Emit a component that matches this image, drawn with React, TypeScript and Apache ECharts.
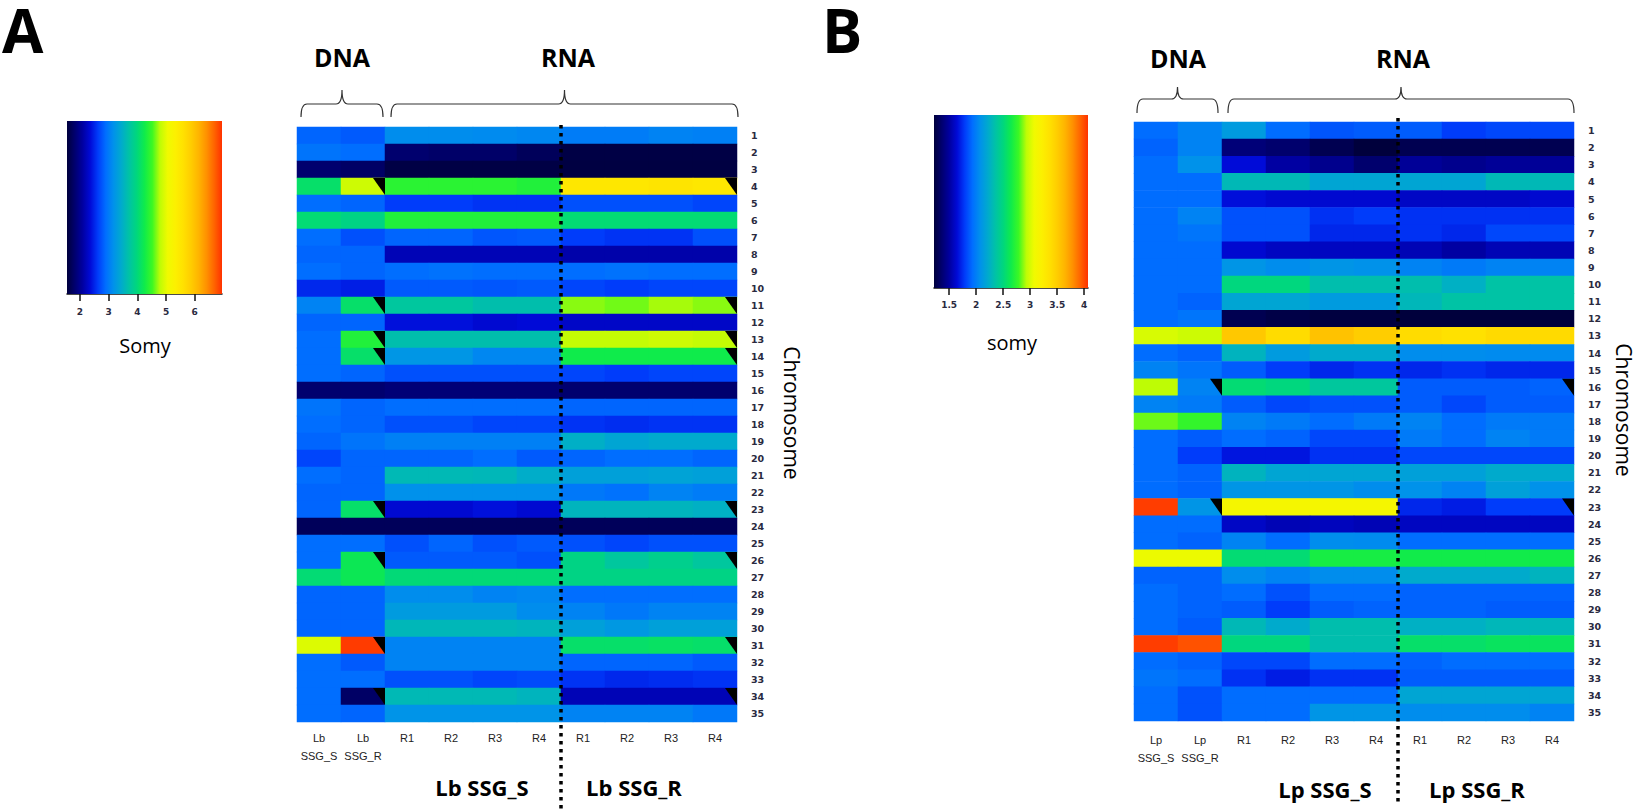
import React, { useEffect, useRef } from "react";
import * as echarts from "echarts";

// ---------------- data ----------------
const chromosomes = ["1","2","3","4","5","6","7","8","9","10","11","12","13","14","15","16","17","18","19","20","21","22","23","24","25","26","27","28","29","30","31","32","33","34","35"];

const columnsA = ["DNA Lb SSG_S", "DNA Lb SSG_R", "S R1", "S R2", "S R3", "S R4", "R R1", "R R2", "R R3", "R R4"];
const columnLabelsA = ["Lb\nSSG_S", "Lb\nSSG_R", "R1", "R2", "R3", "R4", "R1", "R2", "R3", "R4"];
const columnsB = ["DNA Lp SSG_S", "DNA Lp SSG_R", "S R1", "S R2", "S R3", "S R4", "R R1", "R R2", "R R3", "R R4"];
const columnLabelsB = ["Lp\nSSG_S", "Lp\nSSG_R", "R1", "R2", "R3", "R4", "R1", "R2", "R3", "R4"];

// somy per chromosome (rows) x sample (columns)
const somyA: number[][] = [
  [2.85, 2.79, 3.14, 3.14, 3.12, 3.09, 3.01, 3.01, 3.06, 3.04],
  [2.95, 2.90, 1.82, 1.79, 1.79, 1.71, 1.60, 1.60, 1.60, 1.60],
  [1.82, 1.77, 1.60, 1.60, 1.60, 1.60, 1.58, 1.58, 1.58, 1.58],
  [4.09, 4.87, 4.41, 4.41, 4.41, 4.36, 5.49, 5.49, 5.55, 5.49],
  [2.90, 2.85, 2.63, 2.63, 2.58, 2.58, 2.74, 2.74, 2.74, 2.68],
  [4.03, 3.93, 4.36, 4.36, 4.36, 4.36, 4.03, 4.03, 4.03, 4.03],
  [2.90, 2.74, 2.85, 2.85, 2.77, 2.79, 2.63, 2.58, 2.58, 2.74],
  [2.85, 2.85, 2.20, 2.20, 2.20, 2.20, 2.14, 2.14, 2.14, 2.14],
  [2.90, 2.85, 2.90, 2.93, 2.90, 2.90, 2.90, 2.93, 2.90, 2.90],
  [2.52, 2.47, 2.79, 2.79, 2.77, 2.79, 2.68, 2.63, 2.68, 2.68],
  [3.06, 4.09, 3.76, 3.76, 3.66, 3.66, 4.68, 4.63, 4.74, 4.68],
  [2.85, 2.85, 2.39, 2.39, 2.33, 2.36, 2.28, 2.28, 2.28, 2.28],
  [2.90, 4.36, 3.66, 3.66, 3.66, 3.66, 4.82, 4.82, 4.87, 4.82],
  [2.90, 4.09, 3.22, 3.22, 3.09, 3.09, 4.25, 4.25, 4.25, 4.25],
  [2.90, 2.85, 2.74, 2.74, 2.74, 2.74, 2.68, 2.63, 2.68, 2.68],
  [1.82, 1.82, 1.87, 1.87, 1.87, 1.87, 1.82, 1.82, 1.82, 1.82],
  [2.95, 2.85, 2.90, 2.90, 2.90, 2.90, 2.85, 2.85, 2.85, 2.85],
  [2.90, 2.85, 2.74, 2.74, 2.68, 2.68, 2.58, 2.55, 2.58, 2.58],
  [2.85, 2.95, 3.04, 3.04, 3.04, 3.04, 3.49, 3.39, 3.44, 3.44],
  [2.68, 2.85, 2.85, 2.85, 2.90, 2.79, 2.85, 2.90, 2.90, 2.85],
  [2.90, 2.85, 3.60, 3.60, 3.58, 3.47, 3.33, 3.33, 3.36, 3.33],
  [2.85, 2.85, 3.17, 3.17, 3.17, 3.17, 2.98, 2.93, 3.06, 3.01],
  [2.85, 4.09, 2.33, 2.33, 2.39, 2.33, 3.55, 3.55, 3.55, 3.50],
  [1.71, 1.71, 1.71, 1.71, 1.71, 1.71, 1.71, 1.71, 1.71, 1.71],
  [2.90, 2.90, 2.74, 2.85, 2.74, 2.79, 2.74, 2.68, 2.74, 2.74],
  [2.90, 4.20, 2.79, 2.79, 2.79, 2.74, 3.93, 3.76, 3.87, 3.76],
  [4.03, 4.20, 4.01, 4.01, 4.01, 4.01, 3.93, 3.93, 3.93, 3.93],
  [2.85, 2.85, 3.14, 3.14, 3.06, 3.09, 2.90, 2.90, 2.90, 2.90],
  [2.85, 2.85, 3.28, 3.28, 3.28, 3.14, 3.06, 2.98, 3.06, 3.06],
  [2.85, 2.85, 3.58, 3.58, 3.58, 3.55, 3.33, 3.25, 3.33, 3.33],
  [4.95, 6.90, 3.06, 3.06, 3.06, 3.06, 4.09, 4.09, 4.12, 4.09],
  [2.90, 2.79, 3.06, 3.06, 3.06, 3.06, 2.85, 2.85, 2.85, 2.79],
  [2.90, 2.90, 2.74, 2.74, 2.68, 2.71, 2.58, 2.52, 2.55, 2.58],
  [2.90, 1.77, 3.60, 3.60, 3.60, 3.55, 2.20, 2.20, 2.20, 2.20],
  [2.90, 2.85, 3.20, 3.20, 3.20, 3.20, 3.06, 3.06, 3.06, 2.98],
];

const somyB: number[][] = [
  [1.93, 2.02, 2.13, 1.93, 1.86, 1.88, 1.88, 1.79, 1.82, 1.82],
  [1.90, 2.02, 1.39, 1.36, 1.28, 1.22, 1.28, 1.28, 1.28, 1.28],
  [1.93, 2.08, 1.65, 1.51, 1.45, 1.36, 1.48, 1.45, 1.48, 1.48],
  [1.93, 1.93, 2.30, 2.30, 2.19, 2.19, 2.19, 2.19, 2.30, 2.30],
  [1.93, 1.93, 1.66, 1.63, 1.63, 1.63, 1.60, 1.60, 1.60, 1.63],
  [1.93, 2.02, 1.85, 1.85, 1.76, 1.79, 1.76, 1.76, 1.76, 1.76],
  [1.93, 1.96, 1.85, 1.85, 1.73, 1.73, 1.76, 1.73, 1.82, 1.82],
  [1.93, 1.93, 1.63, 1.59, 1.59, 1.59, 1.56, 1.51, 1.56, 1.56],
  [1.93, 1.93, 2.10, 2.06, 2.10, 2.08, 2.02, 1.98, 2.02, 2.02],
  [1.93, 1.93, 2.50, 2.50, 2.33, 2.33, 2.33, 2.25, 2.36, 2.36],
  [1.93, 1.90, 2.19, 2.19, 2.13, 2.13, 2.29, 2.36, 2.36, 2.36],
  [1.93, 1.96, 1.28, 1.25, 1.23, 1.23, 1.22, 1.22, 1.22, 1.22],
  [3.00, 2.97, 3.53, 3.39, 3.56, 3.50, 3.39, 3.36, 3.41, 3.41],
  [1.93, 1.90, 2.27, 2.13, 2.22, 2.22, 2.06, 2.06, 2.05, 2.05],
  [2.02, 1.96, 1.88, 1.79, 1.73, 1.76, 1.73, 1.76, 1.73, 1.73],
  [2.93, 2.02, 2.53, 2.50, 2.39, 2.39, 1.88, 1.88, 1.88, 1.90],
  [2.02, 1.98, 1.88, 1.82, 1.85, 1.85, 1.88, 1.82, 1.88, 1.88],
  [2.84, 2.76, 2.02, 1.98, 1.93, 1.98, 2.02, 1.93, 1.98, 1.98],
  [1.93, 1.88, 1.93, 1.90, 1.82, 1.82, 1.98, 1.93, 2.02, 1.98],
  [1.93, 1.79, 1.68, 1.68, 1.76, 1.76, 1.82, 1.82, 1.82, 1.82],
  [1.93, 1.90, 2.27, 2.19, 2.19, 2.19, 2.16, 2.16, 2.22, 2.22],
  [1.93, 1.90, 2.10, 2.10, 2.10, 2.06, 2.08, 2.02, 2.16, 2.08],
  [4.04, 2.10, 3.13, 3.13, 3.13, 3.13, 1.73, 1.70, 1.79, 1.79],
  [1.93, 1.93, 1.60, 1.56, 1.58, 1.56, 1.59, 1.59, 1.59, 1.59],
  [1.93, 1.90, 2.02, 1.93, 2.06, 2.05, 1.93, 1.93, 1.93, 1.93],
  [3.06, 3.06, 2.53, 2.53, 2.67, 2.67, 2.65, 2.65, 2.65, 2.65],
  [1.90, 1.90, 2.06, 2.02, 2.06, 2.06, 2.22, 2.22, 2.22, 2.27],
  [1.93, 1.90, 1.93, 1.85, 1.93, 1.93, 1.90, 1.90, 1.90, 1.90],
  [1.93, 1.90, 1.88, 1.79, 1.88, 1.90, 1.90, 1.90, 1.88, 1.88],
  [1.93, 1.88, 2.30, 2.22, 2.33, 2.33, 2.25, 2.25, 2.29, 2.29],
  [4.04, 3.98, 2.50, 2.50, 2.33, 2.33, 2.56, 2.56, 2.59, 2.59],
  [1.93, 1.90, 1.82, 1.82, 1.93, 1.93, 1.90, 1.93, 1.93, 1.93],
  [1.96, 1.93, 1.76, 1.70, 1.76, 1.76, 1.88, 1.88, 1.88, 1.88],
  [1.93, 1.85, 1.93, 1.93, 1.93, 1.93, 2.19, 2.19, 2.19, 2.19],
  [1.93, 1.85, 1.93, 1.93, 2.10, 2.10, 2.06, 2.06, 2.06, 2.02],
];

// chromosomes marked with a black corner (flagged) and the columns carrying the mark
const flaggedChromA = [4, 11, 13, 14, 23, 26, 31, 34];
const flaggedChromB = [16, 23];
const flaggedCols = [1, 9];

// colour scale ranges and ticks
const scaleA = { min: 1.55, max: 6.95 };
const scaleB = { min: 1.22, max: 4.07 };
const ticksA = [2, 3, 4, 5, 6];
const ticksB = [1.5, 2, 2.5, 3, 3.5, 4];

// -------------- styles ---------------
const PALETTE = [
  "#00003c", "#00006e", "#0000a0", "#000ad7", "#003cfa", "#006eff", "#0091eb",
  "#00aacd", "#00c3a5", "#00d77d", "#0feb4b", "#3cf823", "#befc05", "#f0fa00",
  "#fcf000", "#ffe100", "#ffcd00", "#ffb400", "#ff9100", "#ff6400", "#ff3200",
];

const BOLD = "'Open Sans', 'Noto Sans', sans-serif";
const SMALL = "'DejaVu Sans', sans-serif";
const LAB = "'Liberation Sans', Arial, sans-serif";

const Brace = (echarts.graphic as any).extendShape({
  type: "brace",
  shape: { x1: 0, x2: 0, yTip: 0, yMid: 0, yEnd: 0, r: 6 },
  buildPath(ctx: any, s: any) {
    const xm = (s.x1 + s.x2) / 2;
    ctx.moveTo(s.x1, s.yEnd);
    ctx.quadraticCurveTo(s.x1, s.yMid, s.x1 + s.r, s.yMid);
    ctx.lineTo(xm - s.r, s.yMid);
    ctx.quadraticCurveTo(xm, s.yMid, xm, s.yTip);
    ctx.quadraticCurveTo(xm, s.yMid, xm + s.r, s.yMid);
    ctx.lineTo(s.x2 - s.r, s.yMid);
    ctx.quadraticCurveTo(s.x2, s.yMid, s.x2, s.yEnd);
  },
});
(echarts.graphic as any).registerShape("brace", Brace);

function heatData(m: number[][]) {
  const out: number[][] = [];
  m.forEach((row, r) => row.forEach((v, c) => out.push([c, r, v])));
  return out;
}

function flagData(chroms: number[]) {
  const out: number[][] = [];
  chroms.forEach((ch) => flaggedCols.forEach((c) => out.push([c, ch - 1])));
  return out;
}

function colorbarX(gridIndex: number, sc: { min: number; max: number }, ticks: number[], margin: number) {
  return {
    type: "value",
    gridIndex,
    min: sc.min,
    max: sc.max,
    axisLine: { show: true, onZero: false, lineStyle: { color: "#111", width: 1.5 } },
    axisTick: { show: true, length: 7, customValues: ticks, lineStyle: { color: "#111", width: 1.5 } },
    axisLabel: { customValues: ticks, fontSize: 9, fontWeight: "bold", fontFamily: SMALL, color: "#2a2a40", margin },
    splitLine: { show: false },
  };
}

function heatX(gridIndex: number, cats: string[], labels: string[], margin: number) {
  return {
    type: "category",
    gridIndex,
    data: cats,
    axisLine: { show: false },
    axisTick: { show: false },
    splitLine: { show: false },
    axisLabel: {
      interval: 0,
      fontSize: 11,
      lineHeight: 18,
      margin,
      color: "#222",
      fontFamily: LAB,
      formatter: (_v: string, i: number) => labels[i],
    },
  };
}

function heatY(gridIndex: number) {
  return {
    type: "category",
    gridIndex,
    data: chromosomes,
    inverse: true,
    position: "right",
    axisLine: { show: false },
    axisTick: { show: false },
    splitLine: { show: false },
    axisLabel: { interval: 0, fontSize: 9.5, fontWeight: "bold", fontFamily: SMALL, color: "#2a2a40", margin: 14 },
  };
}

function colorbarSeries(axisIndex: number, sc: { min: number; max: number }) {
  return {
    type: "custom",
    xAxisIndex: axisIndex,
    yAxisIndex: axisIndex,
    silent: true,
    data: [[sc.min, 0, sc.max, 1]],
    encode: { x: [0, 2], y: [1, 3] },
    renderItem: (_p: any, api: any) => {
      const p0 = api.coord([api.value(0), api.value(3)]);
      const p1 = api.coord([api.value(2), api.value(1)]);
      return {
        type: "rect",
        shape: { x: p0[0], y: p0[1], width: p1[0] - p0[0], height: p1[1] - p0[1] },
        style: {
          fill: new echarts.graphic.LinearGradient(
            0, 0, 1, 0,
            PALETTE.map((c, i) => ({ offset: i / (PALETTE.length - 1), color: c }))
          ),
        },
      };
    },
  };
}

function flagSeries(axisIndex: number, chroms: number[]) {
  return {
    type: "custom",
    xAxisIndex: axisIndex,
    yAxisIndex: axisIndex,
    silent: true,
    z: 5,
    data: flagData(chroms),
    encode: { x: 0, y: 1 },
    renderItem: (_p: any, api: any) => {
      const c = api.coord([api.value(0), api.value(1)]);
      const s = api.size([1, 1]);
      const right = c[0] + s[0] / 2;
      const top = c[1] - s[1] / 2;
      const bottom = c[1] + s[1] / 2;
      return {
        type: "polygon",
        shape: { points: [[right - 12, top], [right, top], [right, bottom]] },
        style: { fill: "#000" },
      };
    },
  };
}

function dividerSeries(axisIndex: number, topExt: number, bottomExt: number) {
  return {
    type: "custom",
    xAxisIndex: axisIndex,
    yAxisIndex: axisIndex,
    silent: true,
    z: 10,
    clip: false,
    data: [[5, 0]],
    encode: { x: 0, y: 1 },
    renderItem: (params: any, api: any) => {
      const c = api.coord([api.value(0), api.value(1)]);
      const w = api.size([1, 1])[0];
      const x = c[0] + w / 2;
      const cs = params.coordSys;
      return {
        type: "line",
        shape: { x1: x, y1: cs.y - topExt, x2: x, y2: cs.y + cs.height + bottomExt },
        style: { stroke: "#000", lineWidth: 3.5, lineDash: [3.5, 4.5] },
      };
    },
  };
}

function txt(text: string, x: number, y: number, fontSize: number, bold: boolean, extra: any = {}, lineHeight?: number) {
  const { align, ...rest } = extra;
  return {
    type: "text",
    x,
    y,
    silent: true,
    ...rest,
    style: {
      text,
      fontSize,
      lineHeight: lineHeight || Math.round(fontSize * 1.2),
      fontWeight: bold ? "bold" : "normal",
      fontFamily: BOLD,
      fill: "#000",
      align: align || "center",
      verticalAlign: "middle",
    },
  };
}

function brace(x1: number, x2: number, yTip: number, yMid: number, yEnd: number) {
  return {
    type: "brace",
    silent: true,
    shape: { x1, x2, yTip, yMid, yEnd, r: 6 },
    style: { stroke: "#333", fill: "none", lineWidth: 1.2 },
  };
}

function buildOption() {
  return {
    animation: false,
    backgroundColor: "#fff",
    textStyle: { fontFamily: BOLD },
    grid: [
      { left: 67, top: 121, width: 155, height: 173 },
      { left: 297, top: 127, width: 440, height: 595 },
      { left: 934, top: 115, width: 154, height: 173 },
      { left: 1134, top: 122, width: 440, height: 599 },
    ],
    xAxis: [
      colorbarX(0, scaleA, ticksA, 13),
      heatX(1, columnsA, columnLabelsA, 7),
      colorbarX(2, scaleB, ticksB, 12),
      heatX(3, columnsB, columnLabelsB, 10),
    ],
    yAxis: [
      { type: "value", gridIndex: 0, min: 0, max: 1, show: false },
      heatY(1),
      { type: "value", gridIndex: 2, min: 0, max: 1, show: false },
      heatY(3),
    ],
    visualMap: [
      { type: "continuous", show: false, seriesIndex: 1, dimension: 2, min: scaleA.min, max: scaleA.max, inRange: { color: PALETTE } },
      { type: "continuous", show: false, seriesIndex: 5, dimension: 2, min: scaleB.min, max: scaleB.max, inRange: { color: PALETTE } },
    ],
    series: [
      colorbarSeries(0, scaleA),
      {
        type: "heatmap",
        xAxisIndex: 1,
        yAxisIndex: 1,
        data: heatData(somyA),
        itemStyle: { borderWidth: 0 },
        emphasis: { disabled: true },
      },
      flagSeries(1, flaggedChromA),
      dividerSeries(1, 2, 89),
      colorbarSeries(2, scaleB),
      {
        type: "heatmap",
        xAxisIndex: 3,
        yAxisIndex: 3,
        data: heatData(somyB),
        itemStyle: { borderWidth: 0 },
        emphasis: { disabled: true },
      },
      flagSeries(3, flaggedChromB),
      dividerSeries(3, 4, 83),
    ],
    graphic: [
      txt("A", 2, 30, 60, true, { align: "left" }, 46),
      txt("B", 822, 30, 60, true, { align: "left" }, 46),
      txt("DNA", 342, 57, 25, true),
      txt("RNA", 568, 57, 25, true),
      txt("DNA", 1178, 58, 25, true),
      txt("RNA", 1403, 58, 25, true),
      brace(301, 383, 90, 104, 117),
      brace(391, 738, 90, 104, 117),
      brace(1137, 1218, 87, 99, 113),
      brace(1228, 1574, 87, 99, 113),
      txt("Somy", 145, 345, 20, false),
      txt("somy", 1012, 342, 20, false),
      txt("Chromosome", 792, 413, 21, false, { rotation: -Math.PI / 2 }, 22),
      txt("Chromosome", 1624, 410, 21, false, { rotation: -Math.PI / 2 }, 22),
      txt("Lb SSG_S", 482, 787, 22, true),
      txt("Lb SSG_R", 634, 787, 22, true),
      txt("Lp SSG_S", 1325, 789, 22, true),
      txt("Lp SSG_R", 1477, 789, 22, true),
    ],
  };
}

export default function App() {
  const ref = useRef<HTMLDivElement>(null);
  useEffect(() => {
    if (!ref.current) return;
    const chart = echarts.init(ref.current, undefined, { renderer: "svg" });
    chart.setOption(buildOption() as any);
    return () => chart.dispose();
  }, []);
  return (
    <div
      ref={ref}
      style={{ position: "fixed", left: 0, top: 0, width: 1640, height: 811, background: "#fff" }}
    />
  );
}
